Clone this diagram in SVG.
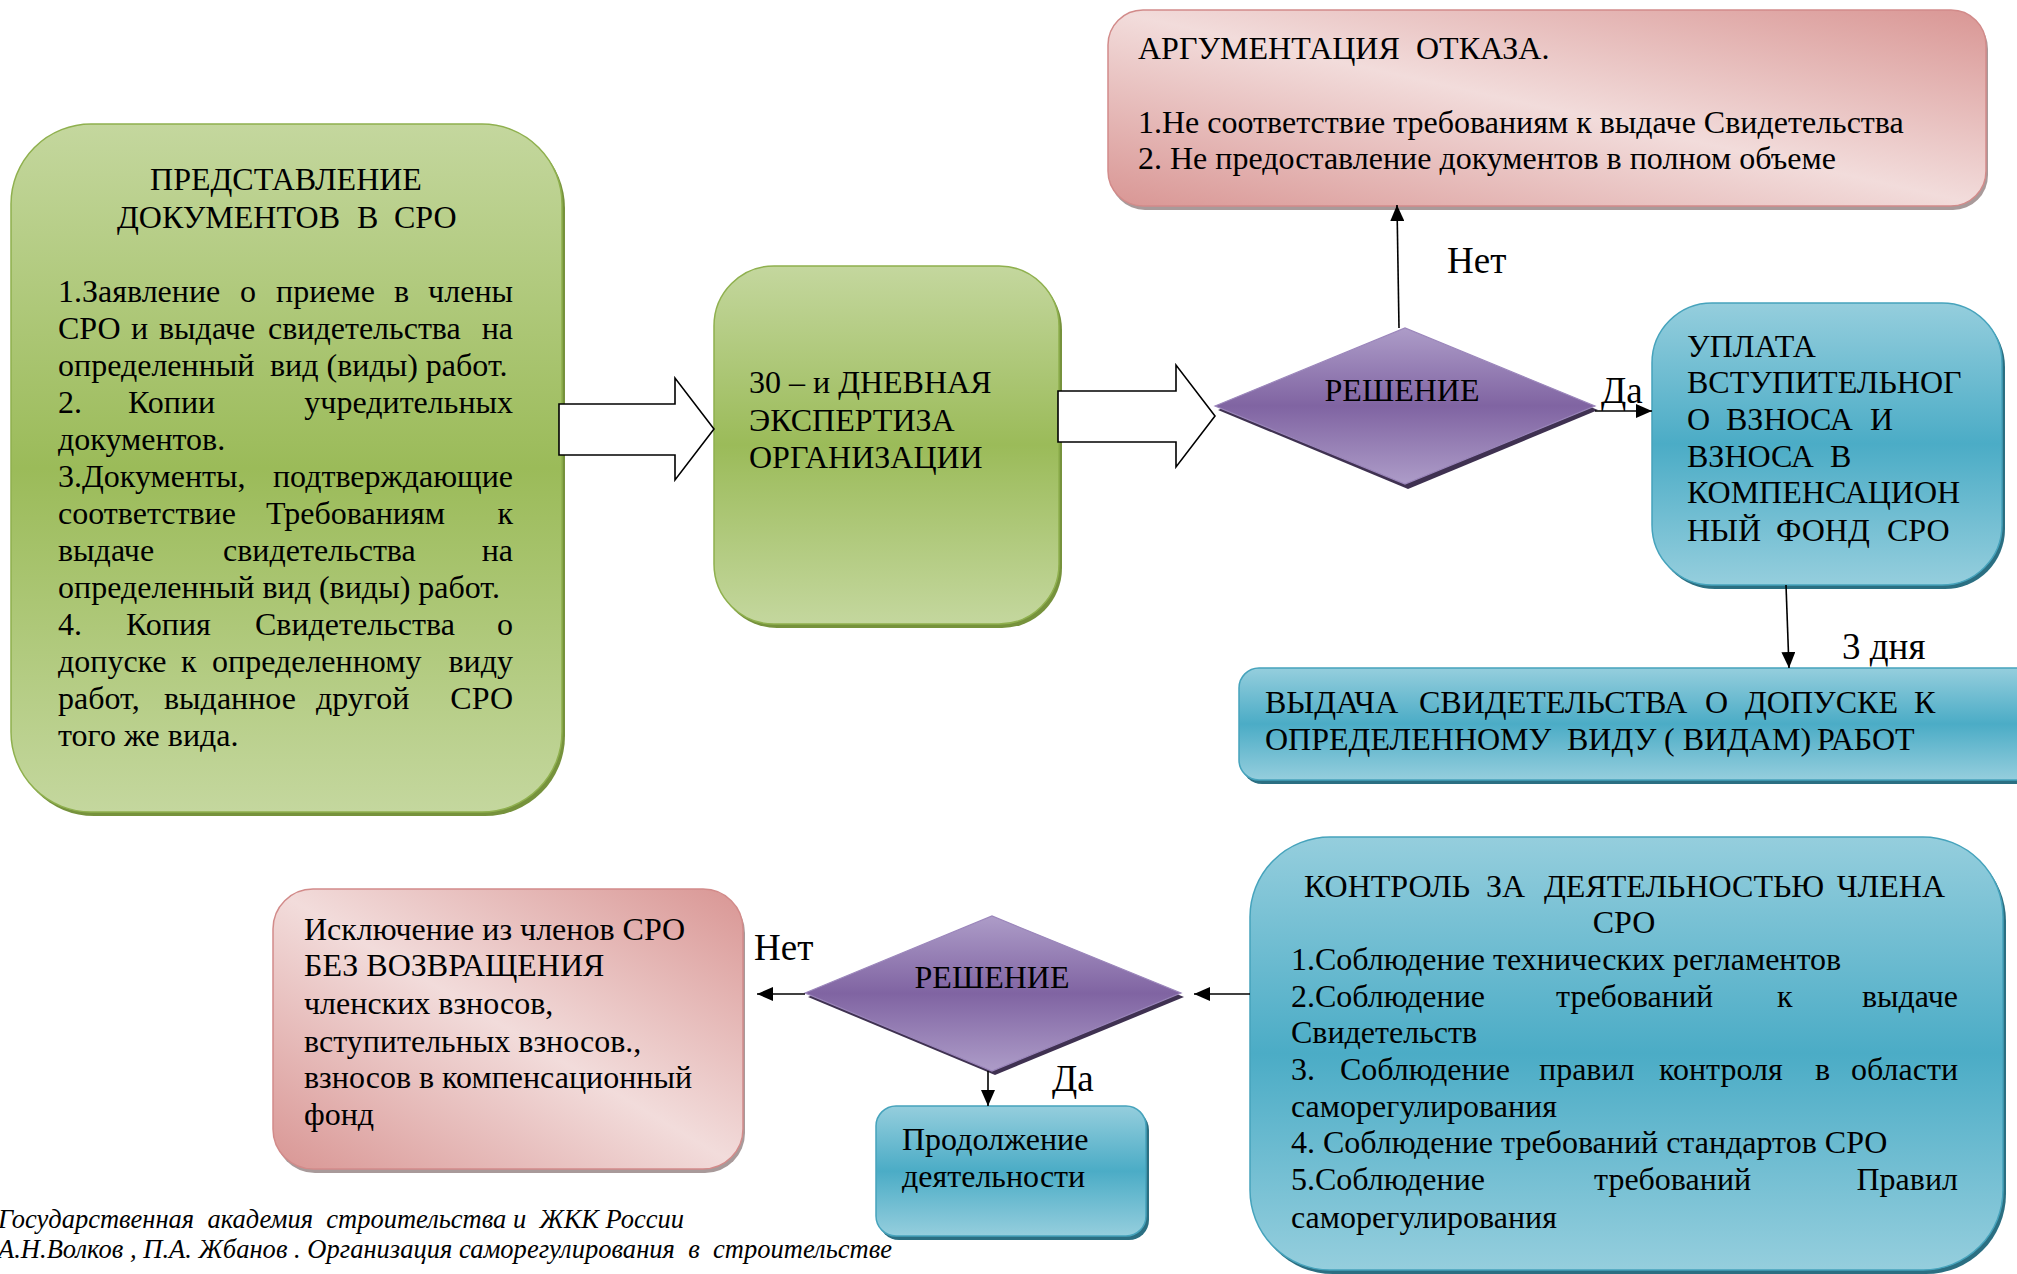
<svg xmlns="http://www.w3.org/2000/svg" width="2017" height="1274" viewBox="0 0 2017 1274">
<defs>
<style>
.t{font-family:"Liberation Serif","Times New Roman",serif;font-size:32px;fill:#000}
.lbl{font-family:"Liberation Serif","Times New Roman",serif;font-size:37px;fill:#000}
.c{text-anchor:middle}
.e{text-anchor:end}
.f{font-family:"Liberation Serif","Times New Roman",serif;font-style:italic;font-size:26.5px;fill:#000}
.ln{stroke:#000;stroke-width:1.6;fill:none;marker-end:url(#arr)}
.blk{fill:#fff;stroke:#000;stroke-width:1.6}
.green{fill:url(#gGreen);stroke:#8fb04e;stroke-width:1.5}
.greenS{fill:#76923c}
.blue{fill:url(#gBlue);stroke:#46a3bc;stroke-width:1.5}
.blueS{fill:#2b6f82}
.pink{fill:url(#gPink);stroke:#d28b8a;stroke-width:1.5}
.pinkS{fill:#a89a9a}
.purp{fill:url(#gPurple);stroke:#9b86bb;stroke-width:1.2}
.purpS{fill:#3f3151}
</style>
<linearGradient id="gGreen" x1="0" y1="0" x2="0" y2="1">
<stop offset="0" stop-color="#c4d79e"/><stop offset="0.5" stop-color="#9bbb59"/><stop offset="1" stop-color="#c4d79e"/>
</linearGradient>
<linearGradient id="gBlue" x1="0" y1="0" x2="0" y2="1">
<stop offset="0" stop-color="#95cedd"/><stop offset="0.5" stop-color="#4bacc6"/><stop offset="1" stop-color="#95cedd"/>
</linearGradient>
<linearGradient id="gPink" x1="0" y1="1" x2="1" y2="0">
<stop offset="0" stop-color="#d99694"/><stop offset="0.5" stop-color="#f2dcdb"/><stop offset="1" stop-color="#d99694"/>
</linearGradient>
<linearGradient id="gPurple" x1="0" y1="0" x2="0" y2="1">
<stop offset="0" stop-color="#ad9cc8"/><stop offset="0.5" stop-color="#8064a2"/><stop offset="1" stop-color="#ad9cc8"/>
</linearGradient>
<marker id="arr" viewBox="0 0 16 14" refX="16" refY="7" markerWidth="16" markerHeight="14" markerUnits="userSpaceOnUse" orient="auto">
<path d="M0,0 L16,7 L0,14 z" fill="#000"/>
</marker>
</defs>
<rect width="2017" height="1274" fill="#fff"/>

<g id="n-docs">
<rect class="greenS" x="14" y="128" width="551" height="688" rx="80"/>
<rect class="green" x="11" y="124" width="551" height="688" rx="80"/>
<text class="t c" x="286" y="190">ПРЕДСТАВЛЕНИЕ</text>
<text class="t" x="117" y="228">ДОКУМЕНТОВ<tspan x="357">В</tspan><tspan x="394">СРО</tspan></text>
<text class="t" y="302"><tspan x="58">1.Заявление</tspan><tspan x="240">о</tspan><tspan x="276">приеме</tspan><tspan x="394">в</tspan></text>
<text class="t e" x="513" y="302">члены</text>
<text class="t" y="339"><tspan x="58">СРО</tspan><tspan x="131">и</tspan><tspan x="159">выдаче</tspan><tspan x="268">свидетельства</tspan></text>
<text class="t e" x="513" y="339">на</text>
<text class="t" x="58" y="376">определенный<tspan x="270">вид (виды) работ.</tspan></text>
<text class="t" x="58" y="413">2.<tspan x="128">Копии</tspan></text>
<text class="t e" x="513" y="413">учредительных</text>
<text class="t" x="58" y="450">документов.</text>
<text class="t" x="58" y="487">3.Документы,</text>
<text class="t e" x="513" y="487">подтверждающие</text>
<text class="t" x="58" y="524">соответствие<tspan x="266">Требованиям</tspan></text>
<text class="t e" x="513" y="524">к</text>
<text class="t" x="58" y="561">выдаче<tspan x="223">свидетельства</tspan></text>
<text class="t e" x="513" y="561">на</text>
<text class="t" x="58" y="598">определенный вид (виды) работ.</text>
<text class="t" x="58" y="635">4.<tspan x="126">Копия</tspan><tspan x="255">Свидетельства</tspan></text>
<text class="t e" x="513" y="635">о</text>
<text class="t" x="58" y="672">допуске<tspan x="181">к</tspan><tspan x="212">определенному</tspan></text>
<text class="t e" x="513" y="672">виду</text>
<text class="t" x="58" y="709">работ,<tspan x="164">выданное</tspan><tspan x="316">другой</tspan></text>
<text class="t e" x="513" y="709">СРО</text>
<text class="t" x="58" y="746">того же вида.</text>
</g>

<g id="n-exp">
<rect class="greenS" x="717" y="270" width="345" height="358" rx="60"/>
<rect class="green" x="714" y="266" width="345" height="358" rx="60"/>
<text class="t" x="749" y="393">30 – и ДНЕВНАЯ</text>
<text class="t" x="749" y="431">ЭКСПЕРТИЗА</text>
<text class="t" x="749" y="468">ОРГАНИЗАЦИИ</text>
</g>

<g id="n-deny">
<rect class="pinkS" x="1110" y="14" width="878" height="196" rx="35"/>
<rect class="pink" x="1108" y="10" width="878" height="196" rx="35"/>
<text class="t" x="1138" y="59">АРГУМЕНТАЦИЯ<tspan x="1416">ОТКАЗА.</tspan></text>
<text class="t" x="1138" y="133">1.Не соответствие требованиям к выдаче Свидетельства</text>
<text class="t" x="1138" y="169">2. Не предоставление документов в полном объеме</text>
</g>

<g id="d-decision1">
<polygon class="purpS" points="1218,410 1408,332 1598,410 1408,489"/>
<polygon class="purp" points="1215,406 1405,328 1595,406 1405,484"/>
<text class="t c" x="1402" y="401">РЕШЕНИЕ</text>
</g>

<g id="n-pay">
<rect class="blueS" x="1655" y="307" width="350" height="282" rx="60"/>
<rect class="blue" x="1652" y="303" width="350" height="282" rx="60"/>
<text class="t" x="1687" y="357">УПЛАТА</text>
<text class="t" x="1687" y="393">ВСТУПИТЕЛЬНОГ</text>
<text class="t" x="1687" y="430">О<tspan x="1726">ВЗНОСА</tspan><tspan x="1870">И</tspan></text>
<text class="t" x="1687" y="467">ВЗНОСА<tspan x="1830">В</tspan></text>
<text class="t" x="1687" y="503">КОМПЕНСАЦИОН</text>
<text class="t" x="1687" y="541">НЫЙ<tspan x="1776">ФОНД</tspan><tspan x="1887">СРО</tspan></text>
</g>

<g id="n-issue">
<rect class="blueS" x="1242" y="672" width="800" height="112" rx="20"/>
<rect class="blue" x="1239" y="668" width="800" height="112" rx="20"/>
<text class="t" x="1265" y="713">ВЫДАЧА<tspan x="1419">СВИДЕТЕЛЬСТВА</tspan><tspan x="1705">О</tspan><tspan x="1745">ДОПУСКЕ</tspan><tspan x="1914">К</tspan></text>
<text class="t" x="1265" y="750">ОПРЕДЕЛЕННОМУ<tspan x="1567">ВИДУ</tspan><tspan x="1664">( ВИДАМ)</tspan><tspan x="1817">РАБОТ</tspan></text>
</g>

<g id="n-control">
<rect class="blueS" x="1253" y="841" width="753" height="433" rx="80"/>
<rect class="blue" x="1250" y="837" width="753" height="433" rx="80"/>
<text class="t" x="1304" y="897">КОНТРОЛЬ<tspan x="1486">ЗА</tspan><tspan x="1544">ДЕЯТЕЛЬНОСТЬЮ</tspan></text>
<text class="t e" x="1945" y="897">ЧЛЕНА</text>
<text class="t c" x="1624" y="933">СРО</text>
<text class="t" x="1291" y="970">1.Соблюдение технических регламентов</text>
<text class="t" x="1291" y="1007">2.Соблюдение<tspan x="1556">требований</tspan><tspan x="1777">к</tspan></text>
<text class="t e" x="1958" y="1007">выдаче</text>
<text class="t" x="1291" y="1043">Свидетельств</text>
<text class="t" x="1291" y="1080">3.<tspan x="1340">Соблюдение</tspan><tspan x="1539">правил</tspan><tspan x="1659">контроля</tspan><tspan x="1815">в</tspan></text>
<text class="t e" x="1958" y="1080">области</text>
<text class="t" x="1291" y="1117">саморегулирования</text>
<text class="t" x="1291" y="1153">4. Соблюдение требований стандартов СРО</text>
<text class="t" x="1291" y="1190">5.Соблюдение<tspan x="1594">требований</tspan></text>
<text class="t e" x="1958" y="1190">Правил</text>
<text class="t" x="1291" y="1228">саморегулирования</text>
</g>

<g id="d-decision2">
<polygon class="purpS" points="808,997 995,920 1184,997 995,1075"/>
<polygon class="purp" points="805,993 992,916 1181,993 992,1071"/>
<text class="t c" x="992" y="988">РЕШЕНИЕ</text>
</g>

<g id="n-exclude">
<rect class="pinkS" x="275" y="893" width="470" height="280" rx="40"/>
<rect class="pink" x="273" y="889" width="470" height="280" rx="40"/>
<text class="t" x="304" y="940">Исключение из членов СРО</text>
<text class="t" x="304" y="976">БЕЗ ВОЗВРАЩЕНИЯ</text>
<text class="t" x="304" y="1014">членских взносов,</text>
<text class="t" x="304" y="1052">вступительных взносов.,</text>
<text class="t" x="304" y="1088">взносов в компенсационный</text>
<text class="t" x="304" y="1125">фонд</text>
</g>

<g id="n-continue">
<rect class="blueS" x="879" y="1110" width="270" height="130" rx="20"/>
<rect class="blue" x="876" y="1106" width="270" height="130" rx="20"/>
<text class="t" x="902" y="1150">Продолжение</text>
<text class="t" x="902" y="1187">деятельности</text>
</g>

<g id="connectors">
<polygon class="blk" points="559,404 675,404 675,378 714,429 675,480 675,455 559,455"/>
<polygon class="blk" points="1058,391 1176,391 1176,365 1215,416 1176,467 1176,442 1058,442"/>
<path class="ln" d="M1399,328 L1397,205"/>
<path class="ln" d="M1595,411 L1652,411"/>
<path class="ln" d="M1786,585 L1789,668"/>
<path class="ln" d="M1250,994 L1194,994"/>
<path class="ln" d="M805,994 L757,994"/>
<path class="ln" d="M988,1071 L988,1106"/>
<text class="lbl" x="1447" y="273">Нет</text>
<text class="lbl" x="1601" y="403">Да</text>
<text class="lbl" x="1842" y="659">3 дня</text>
<text class="lbl" x="754" y="960">Нет</text>
<text class="lbl" x="1052" y="1091">Да</text>
</g>

<g id="footer">
<text class="f" x="-2" y="1228" textLength="686" lengthAdjust="spacing" xml:space="preserve">Государственная  академия  строительства и  ЖКК России</text>
<text class="f" x="-2" y="1258" textLength="894" lengthAdjust="spacing" xml:space="preserve">А.Н.Волков , П.А. Жбанов . Организация саморегулирования  в  строительстве</text>
</g>
</svg>
